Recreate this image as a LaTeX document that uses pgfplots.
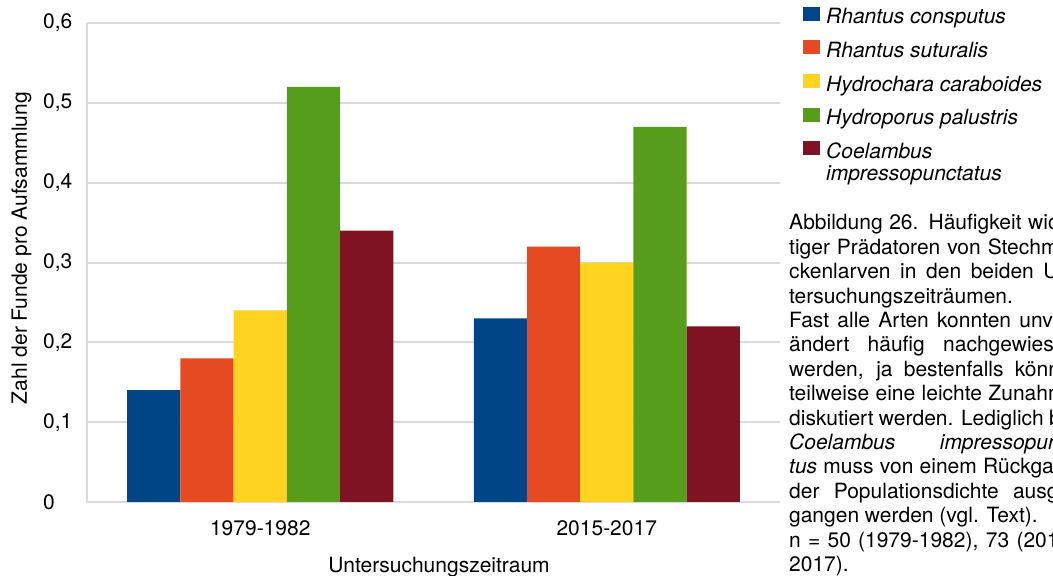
\documentclass[border=0pt]{standalone}
\usepackage{pgfplots}
\pgfplotsset{compat=1.18}
\usepackage{fontspec}
\setmainfont{TeX Gyre Heros}
\definecolor{cblue}{HTML}{004586}
\definecolor{corange}{HTML}{E64A22}
\definecolor{cyellow}{HTML}{FFD320}
\definecolor{cgreen}{HTML}{579D1C}
\definecolor{cred}{HTML}{7E1323}
\definecolor{gridgray}{HTML}{DADADA}
\begin{document}
\fontsize{21pt}{24.4pt}\selectfont
\begin{tikzpicture}
\useasboundingbox (0,0) rectangle (1053pt,576pt);
\begin{axis}[
  at={(87pt,74pt)}, anchor=south west,
  scale only axis, width=693pt, height=479pt,
  ybar=0pt, bar width=53.2pt,
  xmin=-0.5, xmax=1.5, ymin=0, ymax=0.6,
  enlargelimits=false,
  xtick={0,1}, xticklabels={1979-1982,2015-2017},
  ytick={0,0.1,0.2,0.3,0.4,0.5,0.6},
  yticklabels={0,{0,1},{0,2},{0,3},{0,4},{0,5},{0,6}},
  major tick length=0pt,
  axis x line*=bottom, axis y line*=left,
  axis line style={draw=gridgray, line width=2pt},
  ymajorgrids, grid style={draw=gridgray, line width=2pt},
  yticklabel style={anchor=west, inner sep=0pt, xshift=-44pt},
  xticklabel style={anchor=north, inner sep=0pt, yshift=-18pt},
  xlabel={Untersuchungszeitraum},
  xlabel style={at={(axis description cs:0.508,-0.1482)}, anchor=base},
  ylabel={Zahl der Funde pro Aufsammlung},
  ylabel style={at={(axis description cs:-0.0866,0.530)}, anchor=base},
  legend cell align=left,
  legend image code/.code={\fill[#1] (0pt,-2pt) rectangle (17pt,12pt); \path (23pt,0pt);},
  legend style={at={(axis description cs:1.0332,1.0344)}, anchor=north west,
    draw=none, fill=none, inner sep=0pt, row sep=11.9pt,
    font=\itshape,
    nodes={inner sep=0pt, text height=15pt, text depth=4.5pt}},
]
\addplot[fill=cblue, draw=none] coordinates {(0,0.14) (1,0.23)};
\addplot[fill=corange, draw=none] coordinates {(0,0.18) (1,0.32)};
\addplot[fill=cyellow, draw=none] coordinates {(0,0.24) (1,0.30)};
\addplot[fill=cgreen, draw=none] coordinates {(0,0.52) (1,0.47)};
\addplot[fill=cred, draw=none] coordinates {(0,0.34) (1,0.22)};
\legend{Rhantus consputus, Rhantus suturalis, Hydrochara caraboides, Hydroporus palustris,
  {\rlap{\raisebox{-22.4pt}[0pt][0pt]{impressopunctatus}}Coelambus}}
\end{axis}
\node[anchor=base west, inner sep=0pt] at (789pt,346pt) {%
\begin{minipage}[t]{288pt}
\tolerance=10000\hbadness=10000\parindent=0pt
Abbildung 26. Häufigkeit wich-\linebreak
tiger Prädatoren von Stechmü-\linebreak
ckenlarven in den beiden Un-\linebreak
tersuchungszeiträumen.\newline
Fast alle Arten konnten unver-\linebreak
ändert häufig nachgewiesen\linebreak
werden, ja bestenfalls könnte\linebreak
teilweise eine leichte Zunahme\linebreak
diskutiert werden. Lediglich bei\linebreak
\textit{Coelambus impressopunc-}\linebreak
\textit{tus} muss von einem Rückgang\linebreak
der Populationsdichte ausge-\linebreak
gangen werden (vgl. Text).\newline
n = 50 (1979-1982), 73 (2015-\linebreak
2017).
\end{minipage}};
\end{tikzpicture}
\end{document}
